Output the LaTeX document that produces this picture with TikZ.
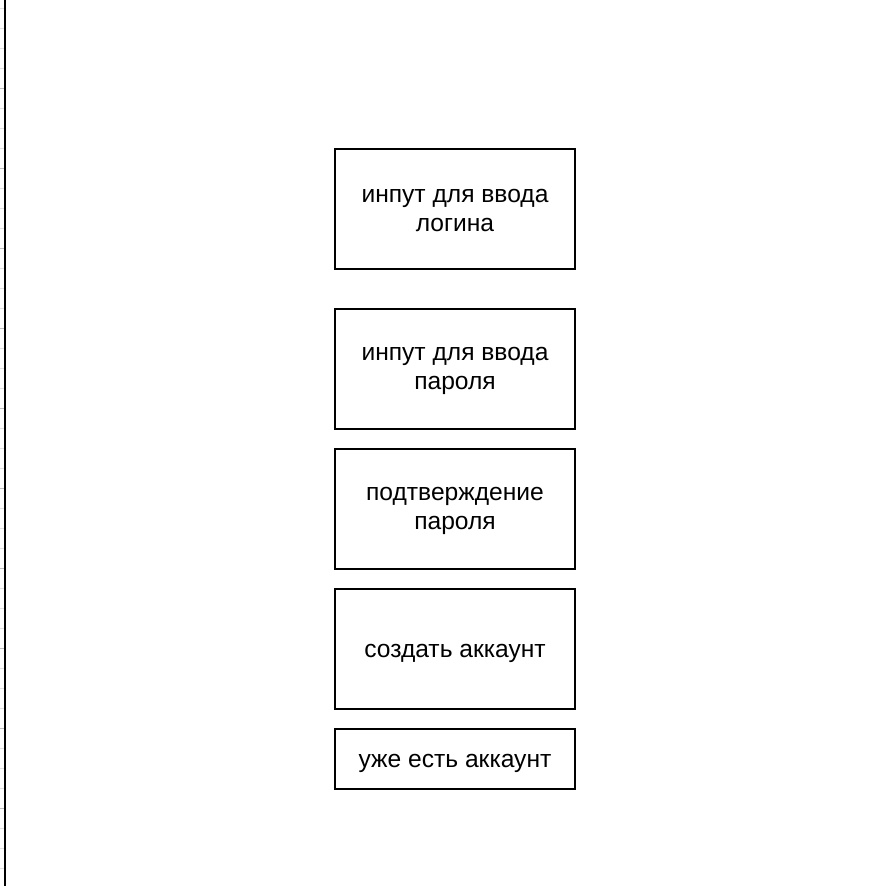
\documentclass[tikz,border=0pt]{standalone}
\usepackage{fontspec}
\setmainfont{Liberation Sans}

\begin{document}
\begin{tikzpicture}[x=1pt, y=-1pt,
    caja/.style={draw=black, line width=2pt, minimum width=240pt, minimum height=120pt, inner sep=0pt},
    cajabaja/.style={caja, minimum height=60pt},
    texto/.style={align=center, font=\fontsize{24.6}{29}\selectfont, inner sep=0pt, yshift=-4pt},
    texto2/.style={texto, yshift=2.5pt}]
    \useasboundingbox (0,0) rectangle (894,886);

    % Rejilla del borde
    \foreach \y in {8,28,...,868} {
        \draw[black!12, line width=1pt] (0,\y) -- (4,\y);
    }
    \foreach \y in {88,168,...,808} {
        \draw[black!25, line width=1pt] (0,\y) -- (4,\y);
    }
    % Linea vertical
    \draw[black, line width=2pt] (5,0) -- (5,886);

    % Cajas
    \node[caja, label={[texto2]center:{инпут для ввода\\логина}}] (login) at (455,209) {};
    \node[caja, label={[texto2]center:{инпут для ввода\\пароля}}] (password) at (455,369) {};
    \node[caja, label={[texto2]center:{подтверждение\\пароля}}] (confirm) at (455,509) {};
    \node[caja, label={[texto]center:{создать аккаунт}}] (create) at (455,649) {};
    \node[cajabaja, label={[texto]center:{уже есть аккаунт}}] (haveacc) at (455,759) {};
\end{tikzpicture}
\end{document}
